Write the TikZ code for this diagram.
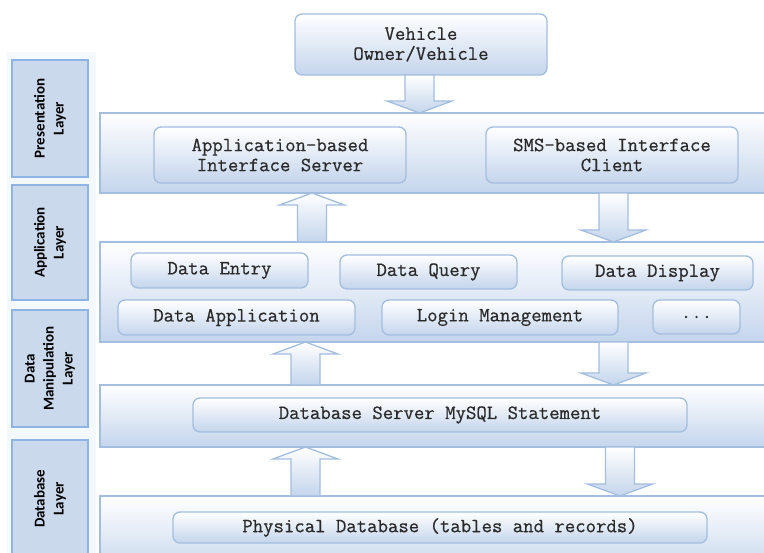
\documentclass[tikz,border=0pt]{standalone}
\usepackage{fontspec}
\newfontfamily\monofont{Latin Modern Mono}[FakeBold=0.6]
\newfontfamily\labelfont{Carlito}
\usetikzlibrary{calc}

\definecolor{edgeblue}{HTML}{A3BEDF}
\definecolor{shadeblue}{HTML}{C4D5EC}
\definecolor{tagfill}{HTML}{CBD9EC}
\definecolor{tagedge}{HTML}{8DB4E3}
\definecolor{stripbg}{HTML}{F3F9FD}
\definecolor{inkgray}{HTML}{2A2A2A}

\tikzset{
  panel/.style={draw=edgeblue, line width=1.6pt, top color=white, bottom color=shadeblue,
    anchor=north west, inner sep=0pt, outer sep=0pt},
  unit/.style={draw=edgeblue, line width=1.3pt, rounded corners=7pt, top color=white,
    bottom color=shadeblue, anchor=north west, inner sep=0pt, outer sep=0pt, align=center,
    text=inkgray, font=\monofont\fontsize{20.2}{20}\selectfont},
  tag/.style={draw=tagedge, line width=1.5pt, fill=tagfill, anchor=north west,
    inner sep=0pt, outer sep=0pt},
  taglabel/.style={rotate=90, align=center, text=black,
    font=\labelfont\bfseries\fontsize{15}{19}\selectfont},
  blockarrow/.style={draw=edgeblue, line width=1.3pt, top color=white,
    bottom color=shadeblue, line join=miter},
}

% Hollow block arrow at horizontal position #1, from the edge #2 to the edge #3
\newcommand\flowarrow[3]{%
  \path[blockarrow] let \p1=(#2), \p2=(#3),
      \n1={ifthenelse(\y2>\y1,\y2-12pt,\y2+12pt)} in
    ({#1pt-14.5pt},\y1) -- ({#1pt-14.5pt},\n1) -- ({#1pt-32.5pt},\n1)
    -- ({#1pt},\y2) -- ({#1pt+32.5pt},\n1) -- ({#1pt+14.5pt},\n1)
    -- ({#1pt+14.5pt},\y1) -- cycle;}

\begin{document}
\begin{tikzpicture}[x=1pt, y=-1pt]
  \clip (0,0) rectangle (764,553);
  \fill[white] (0,0) rectangle (764,553);

  % layer tags on the left
  \fill[stripbg] (7,52) rectangle (96,553);
  \node[tag, minimum width=76pt, minimum height=117pt] (t1) at (12,60) {};
  \node[tag, minimum width=76pt, minimum height=115pt] (t2) at (12,185) {};
  \node[tag, minimum width=76pt, minimum height=117pt] (t3) at (12,310) {};
  \node[tag, minimum width=76pt, minimum height=125pt] (t4) at (12,440) {};
  \node[taglabel] (l1) at (t1.center) {Presentation\\Layer};
  \node[taglabel] (l2) at (t2.center) {Application\\Layer};
  \node[taglabel] (l3) at (t3.center) {Data\\Manipulation\\Layer};
  \node[taglabel] (l4) at ($(t4.north)!0.47!(t4.south)$) {Database\\Layer};

  % layer panels
  \node[panel, minimum width=680pt, minimum height=80pt] (p1) at (100,113) {};
  \node[panel, minimum width=680pt, minimum height=100pt] (p2) at (100,242) {};
  \node[panel, minimum width=680pt, minimum height=62pt] (p3) at (100,385) {};
  \node[panel, minimum width=680pt, minimum height=80pt] (p4) at (100,496) {};

  % top actor
  \node[unit, minimum width=252pt, minimum height=61pt] (vo) at (295,14) {Vehicle\\Owner/Vehicle};

  % presentation layer
  \node[unit, minimum width=252pt, minimum height=56pt] (as) at (154,127) {Application-based\\Interface Server};
  \node[unit, minimum width=252pt, minimum height=56pt] (sms) at (486,127) {SMS-based Interface\\Client};

  % application layer
  \node[unit, minimum width=177pt, minimum height=35pt] (de) at (131,253) {Data Entry};
  \node[unit, minimum width=177pt, minimum height=34pt] (dq) at (340,255) {Data Query};
  \node[unit, minimum width=191pt, minimum height=34pt] (dd) at (562,256) {Data Display};
  \node[unit, minimum width=237pt, minimum height=35pt] (da) at (118,300) {Data Application};
  \node[unit, minimum width=236pt, minimum height=35pt] (lm) at (382,300) {Login Management};
  \node[unit, minimum width=87pt, minimum height=34pt] (more) at (653,300) {...};

  % data manipulation layer
  \node[unit, minimum width=494pt, minimum height=34pt] (ds) at (193,398) {Database Server MySQL Statement};

  % database layer
  \node[unit, minimum width=534pt, minimum height=31pt] (pd) at (173,512) {Physical Database (tables and records)};

  % flows between layers
  \flowarrow{419.5}{vo.south}{p1.north}
  \flowarrow{312}{p2.north}{p1.south}
  \flowarrow{613.5}{p1.south}{p2.north}
  \flowarrow{305.5}{p3.north}{p2.south}
  \flowarrow{613.5}{p2.south}{p3.north}
  \flowarrow{305.5}{p4.north}{p3.south}
  \flowarrow{620}{p3.south}{p4.north}
\end{tikzpicture}
\end{document}
